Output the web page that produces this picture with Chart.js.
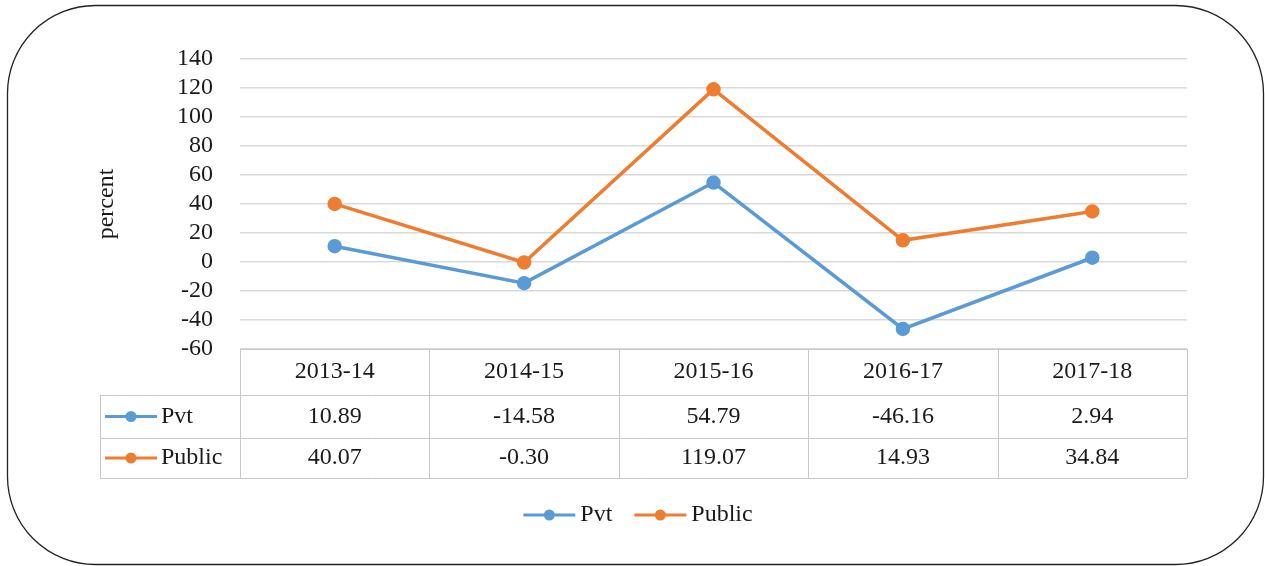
<!DOCTYPE html>
<html>
<head>
<meta charset="utf-8">
<title>Pvt vs Public growth</title>
<script src="https://cdn.jsdelivr.net/npm/chart.js@4.4.1/dist/chart.umd.min.js"></script>
<style>
    html, body { margin: 0; padding: 0; background: #fff; }
    #wrap { width: 1265px; height: 566px; }
</style>
</head>
<body>
<div id="wrap"><canvas id="growthChart" width="1265" height="566"></canvas></div>
<script>
// data
const years = ["2013-14", "2014-15", "2015-16", "2016-17", "2017-18"];
const pvtValues = [10.89, -14.58, 54.79, -46.16, 2.94];
const publicValues = [40.07, -0.30, 119.07, 14.93, 34.84];
const seriesNames = ["Pvt", "Public"];
const yMin = -60;
const yMax = 140;
const yStep = 20;

const blue = "#5B9BD5";
const orange = "#ED7D31";
const textColor = "#1a1a1a";
const lineGray = "#c8c8c8";
const serif = "'Liberation Serif', 'Times New Roman', serif";

function drawKey(ctx, x, y, color) {
    ctx.save();
    ctx.strokeStyle = color;
    ctx.lineWidth = 3;
    ctx.beginPath();
    ctx.moveTo(x, y);
    ctx.lineTo(x + 52, y);
    ctx.stroke();
    ctx.fillStyle = color;
    ctx.beginPath();
    ctx.arc(x + 26, y, 5.5, 0, Math.PI * 2);
    ctx.fill();
    ctx.restore();
}

// data table under the plot + bottom legend + rounded frame
const tablePlugin = {
    id: "dataTable",
    afterDraw(chart) {
        const ctx = chart.ctx;
        const xs = chart.scales.x;
        const area = chart.chartArea;
        const colW = (area.right - area.left) / years.length;
        const rowH = [46, 43, 40];
        const top = area.bottom;
        const r1 = top + rowH[0];
        const r2 = r1 + rowH[1];
        const r3 = r2 + rowH[2];
        const labelLeft = 100;

        ctx.save();
        ctx.strokeStyle = lineGray;
        ctx.lineWidth = 1;
        ctx.beginPath();
        [r1, r2, r3].forEach(y => {
            ctx.moveTo(labelLeft, y + 0.5);
            ctx.lineTo(area.right, y + 0.5);
        });
        ctx.moveTo(area.left, top + 0.5);
        ctx.lineTo(area.right, top + 0.5);
        ctx.moveTo(labelLeft + 0.5, r1);
        ctx.lineTo(labelLeft + 0.5, r3);
        for (let i = 0; i <= years.length; i++) {
            const x = Math.round(area.left + i * colW) + 0.5;
            ctx.moveTo(x, top);
            ctx.lineTo(x, r3);
        }
        ctx.stroke();

        ctx.fillStyle = textColor;
        ctx.font = "24px " + serif;
        ctx.textAlign = "center";
        ctx.textBaseline = "middle";
        const rowsData = [pvtValues, publicValues];
        years.forEach((yr, i) => {
            const cx = xs.getPixelForValue(i);
            ctx.fillText(yr, cx, (top + r1) / 2);
            ctx.fillText(rowsData[0][i].toFixed(2), cx, (r1 + r2) / 2);
            ctx.fillText(rowsData[1][i].toFixed(2), cx, (r2 + r3) / 2);
        });

        // row headers
        ctx.textAlign = "left";
        drawKey(ctx, 105, (r1 + r2) / 2, blue);
        ctx.fillText(seriesNames[0], 161, (r1 + r2) / 2);
        drawKey(ctx, 105, (r2 + r3) / 2, orange);
        ctx.fillText(seriesNames[1], 161, (r2 + r3) / 2);

        // legend
        const ly = 515;
        const gap = 5;
        const w0 = 52 + gap + ctx.measureText(seriesNames[0]).width;
        const w1 = 52 + gap + ctx.measureText(seriesNames[1]).width;
        let lx = 638 - (w0 + 22 + w1) / 2;
        drawKey(ctx, lx, ly, blue);
        ctx.fillText(seriesNames[0], lx + 52 + gap, ly);
        lx += w0 + 22;
        drawKey(ctx, lx, ly, orange);
        ctx.fillText(seriesNames[1], lx + 52 + gap, ly);

        // outer frame
        ctx.strokeStyle = "#222";
        ctx.lineWidth = 1.3;
        ctx.beginPath();
        ctx.roundRect(7.5, 5.5, 1256, 559, 88);
        ctx.stroke();
        ctx.restore();
    }
};

new Chart(document.getElementById("growthChart").getContext("2d"), {
    type: "line",
    data: {
        labels: years,
        datasets: [
            {
                label: seriesNames[0],
                data: pvtValues,
                borderColor: blue,
                backgroundColor: blue,
                pointBackgroundColor: blue,
                pointBorderColor: blue,
                borderWidth: 3.5,
                pointRadius: 5.5,
                tension: 0
            },
            {
                label: seriesNames[1],
                data: publicValues,
                borderColor: orange,
                backgroundColor: orange,
                pointBackgroundColor: orange,
                pointBorderColor: orange,
                borderWidth: 3.5,
                pointRadius: 5.5,
                tension: 0
            }
        ]
    },
    options: {
        responsive: false,
        animation: false,
        devicePixelRatio: 1,
        layout: { padding: { left: 92, right: 78, top: 59, bottom: 217 } },
        plugins: {
            legend: { display: false },
            tooltip: { enabled: false }
        },
        scales: {
            x: {
                display: false,
                offset: true
            },
            y: {
                min: yMin,
                max: yMax,
                ticks: {
                    stepSize: yStep,
                    autoSkip: false,
                    padding: 27,
                    color: textColor,
                    font: { family: serif, size: 24 }
                },
                grid: { color: "#d9d9d9", lineWidth: 1.5, drawTicks: false },
                border: { display: false },
                title: {
                    display: true,
                    text: "percent",
                    color: textColor,
                    padding: 0,
                    font: { family: serif, size: 24 }
                },
                afterFit(scale) { scale.width = 148; }
            }
        }
    },
    plugins: [tablePlugin]
});
</script>
</body>
</html>
